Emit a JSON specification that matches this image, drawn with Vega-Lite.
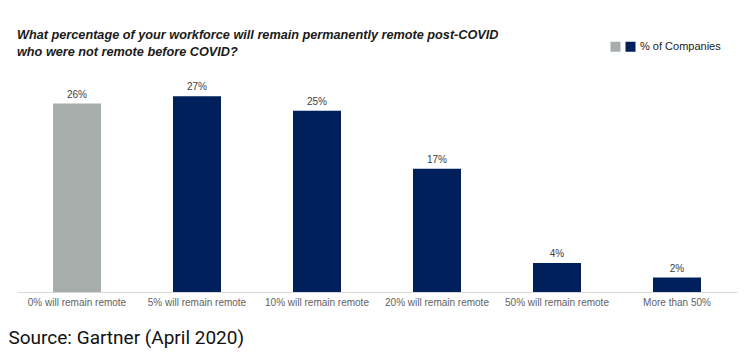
{
  "$schema": "https://vega.github.io/schema/vega-lite/v6.json",
  "autosize": {"type": "none"},
  "width": 720,
  "height": 232,
  "padding": {"left": 17, "top": 60, "right": 18, "bottom": 66},
  "background": "white",
  "title": {
    "text": ["What percentage of your workforce will remain permanently remote post-COVID", "who were not remote before COVID?"],
    "anchor": "start",
    "frame": "group",
    "font": "Liberation Sans",
    "fontSize": 12.7,
    "fontStyle": "italic",
    "fontWeight": "bold",
    "color": "#1a1a1a",
    "lineHeight": 17,
    "offset": 5,
    "dy": 23
  },
  "data": {
    "values": [
      {"category": "0% will remain remote", "value": 0.26, "series": "Baseline"},
      {"category": "5% will remain remote", "value": 0.27, "series": "% of Companies"},
      {"category": "10% will remain remote", "value": 0.25, "series": "% of Companies"},
      {"category": "20% will remain remote", "value": 0.17, "series": "% of Companies"},
      {"category": "50% will remain remote", "value": 0.04, "series": "% of Companies"},
      {"category": "More than 50%", "value": 0.02, "series": "% of Companies"}
    ]
  },
  "encoding": {
    "x": {
      "field": "category",
      "type": "nominal",
      "sort": null,
      "scale": {"paddingInner": 0.6, "paddingOuter": 0.3},
      "axis": {
        "title": "Source: Gartner (April 2020)",
        "titleAnchor": "start",
        "titleAlign": "left",
        "titleX": -9,
        "titleY": 51,
        "titleBaseline": "alphabetic",
        "titleFont": "Roboto",
        "titleFontSize": 19,
        "titleFontWeight": "normal",
        "titleColor": "#111111",
        "labelAngle": 0,
        "labelFont": "Liberation Sans",
        "labelFontSize": 10,
        "labelColor": "#5f5f5f",
        "labelPadding": 5,
        "ticks": false,
        "domainColor": "#d9d9d9",
        "domainWidth": 1,
        "grid": false
      }
    },
    "y": {
      "field": "value",
      "type": "quantitative",
      "scale": {"domain": [0, 0.32], "nice": false},
      "axis": null
    }
  },
  "layer": [
    {
      "mark": {"type": "bar"},
      "encoding": {
        "color": {
          "field": "series",
          "type": "nominal",
          "scale": {"domain": ["Baseline", "% of Companies"], "range": ["#a7adab", "#00205b"]},
          "legend": {
            "orient": "none",
            "legendX": 593,
            "legendY": -19,
            "direction": "horizontal",
            "title": null,
            "symbolType": "square",
            "symbolSize": 100,
            "symbolStrokeWidth": 0,
            "labelFont": "Liberation Sans",
            "labelFontSize": 11,
            "labelColor": "#222222",
            "labelOffset": 4,
            "columnPadding": 0,
            "labelExpr": "datum.label == 'Baseline' ? '' : datum.label"
          }
        }
      }
    },
    {
      "mark": {"type": "text", "baseline": "bottom", "dy": -4, "font": "Liberation Sans", "fontSize": 10, "color": "#404040"},
      "encoding": {
        "text": {"field": "value", "type": "quantitative", "format": ".0%"}
      }
    }
  ],
  "config": {"view": {"stroke": null}}
}
